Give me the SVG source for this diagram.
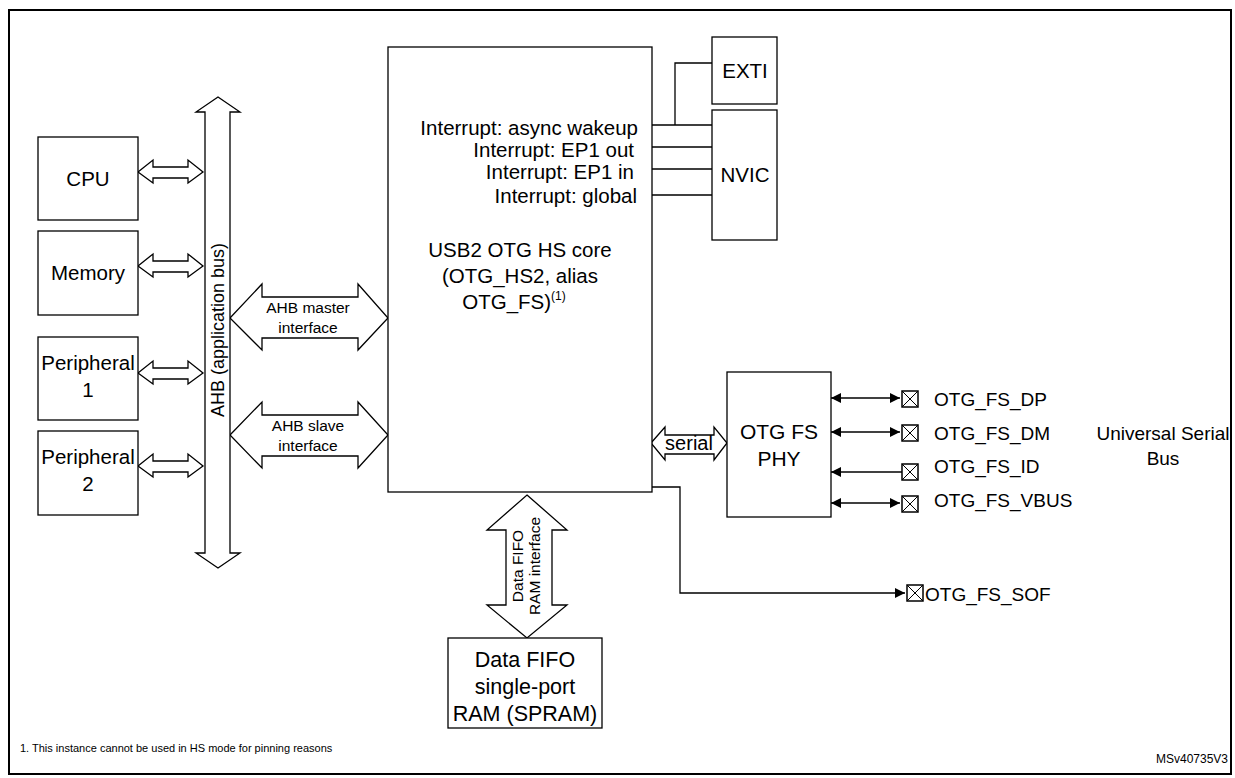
<svg xmlns="http://www.w3.org/2000/svg" width="1235" height="778" viewBox="0 0 1235 778">
<style>
text{font-family:"Liberation Sans",Arial,sans-serif;fill:#000}
.b{fill:#fff;stroke:#000;stroke-width:1.3}
.l{fill:none;stroke:#000;stroke-width:1.3}
.t17{font-size:19px}
.t20{font-size:20.5px}
.t18{font-size:18px}
.t13{font-size:15.5px}
.m{text-anchor:middle}
.e{text-anchor:end}
</style>
<defs>
<marker id="a" viewBox="0 0 10 10" refX="10" refY="5" markerWidth="10" markerHeight="10" markerUnits="userSpaceOnUse" orient="auto-start-reverse"><path d="M0,0L10,5L0,10z" fill="#000"/></marker>
<g id="pin"><rect x="0" y="0" width="16" height="16" fill="#fff" stroke="#000" stroke-width="1.5"/><path d="M0,0L16,16M16,0L0,16" stroke="#000" stroke-width="1"/></g>
</defs>
<rect x="9" y="10" width="1222" height="764" fill="#fff" stroke="#000" stroke-width="2"/>
<g id="connectors">
<path class="b" d="M138,172L153,160V167H188V160L203,172L188,183V178H153V183Z"/>
<path class="b" d="M138,266L153,254V261H188V254L203,266L188,277V272H153V277Z"/>
<path class="b" d="M138,373L153,361V368H188V361L203,373L188,384V379H153V384Z"/>
<path class="b" d="M138,466L153,454V461H188V454L203,466L188,477V472H153V477Z"/>
<path class="b" d="M230,318L262,284V297H358V284L388,318L358,350V338H262V350Z"/>
<path class="b" d="M230,435L262,402V415H358V402L388,435L358,468V456H262V468Z"/>
<path class="b" d="M651,443L665,427V435H714V427L727,443L714,460V454H665V460Z"/>
<path class="b" d="M527,495L567,530H552V605H567L527,638L487,605H506V530H487Z"/>
<path class="l" d="M652,125H712M652,147H712M652,169H712M652,195H712M675,125V63H712"/>
<path class="l" d="M652,487H680V593H905" marker-end="url(#a)"/>
<path class="l" d="M831,398H900" marker-start="url(#a)" marker-end="url(#a)"/>
<path class="l" d="M831,432H900" marker-start="url(#a)" marker-end="url(#a)"/>
<path class="l" d="M831,472H902" marker-start="url(#a)"/>
<path class="l" d="M831,503H900" marker-start="url(#a)" marker-end="url(#a)"/>
<use href="#pin" x="902" y="391"/>
<use href="#pin" x="902" y="425"/>
<use href="#pin" x="902" y="464"/>
<use href="#pin" x="902" y="496"/>
<use href="#pin" x="907" y="585"/>
</g>
<g id="ahb"><path class="b" d="M218,97L240,112H230V553H240L218,568L196,553H205V112H196Z"/>
<text class="t18 m" transform="translate(224,330) rotate(-90)">AHB (application bus)</text></g>
<g id="cpu"><rect class="b" x="38" y="137" width="100" height="83"/><text class="t20 m" x="88" y="186">CPU</text></g>
<g id="memory"><rect class="b" x="38" y="231" width="100" height="84"/><text class="t20 m" x="88" y="280">Memory</text></g>
<g id="p1"><rect class="b" x="38" y="337" width="100" height="83"/><text class="t20 m" x="88" y="370">Peripheral</text><text class="t20 m" x="88" y="397">1</text></g>
<g id="p2"><rect class="b" x="38" y="431" width="100" height="84"/><text class="t20 m" x="88" y="464">Peripheral</text><text class="t20 m" x="88" y="491">2</text></g>
<text class="t13 m" x="308" y="313">AHB master</text><text class="t13 m" x="308" y="333">interface</text>
<text class="t13 m" x="308" y="431">AHB slave</text><text class="t13 m" x="308" y="451">interface</text>
<text class="m" font-size="20" x="689" y="450">serial</text>
<text class="t13 m" transform="translate(527,566) rotate(-90)"><tspan x="0" y="-4">Data FIFO</tspan><tspan x="0" y="13">RAM interface</tspan></text>
<g id="core"><rect class="b" x="388" y="47" width="264" height="445"/>
<text class="t20 e" x="638" y="135">Interrupt: async wakeup</text>
<text class="t20 e" x="634" y="157">Interrupt: EP1 out</text>
<text class="t20 e" x="634" y="179">Interrupt: EP1 in</text>
<text class="t20 e" x="637" y="203">Interrupt: global</text>
<text class="t20 m" x="520" y="257">USB2 OTG HS core</text>
<text class="t20 m" x="520" y="283">(OTG_HS2, alias</text>
<text class="t20 m" x="514" y="309">OTG_FS)<tspan font-size="12" dy="-9">(1)</tspan></text></g>
<g id="exti"><rect class="b" x="712" y="37" width="65" height="67"/><text class="t20 m" x="745" y="78">EXTI</text></g>
<g id="nvic"><rect class="b" x="712" y="110" width="65" height="130"/><text class="t20 m" x="745" y="182">NVIC</text></g>
<g id="phy"><rect class="b" x="727" y="372" width="104" height="145"/><text class="m" font-size="21" x="779" y="439">OTG FS</text><text class="m" font-size="21" x="779" y="466">PHY</text></g>
<g id="spram"><rect class="b" x="448" y="638" width="154" height="90"/><text class="m" font-size="21.5" x="525" y="667">Data FIFO</text><text class="m" font-size="21.5" x="525" y="694">single-port</text><text class="m" font-size="21.5" x="525" y="721">RAM (SPRAM)</text></g>
<text class="t17" x="934" y="406">OTG_FS_DP</text>
<text class="t17" x="934" y="440">OTG_FS_DM</text>
<text class="t17" x="934" y="473">OTG_FS_ID</text>
<text class="t17" x="934" y="507">OTG_FS_VBUS</text>
<text class="t17" x="925" y="601">OTG_FS_SOF</text>
<text class="t17 m" x="1163" y="440">Universal Serial</text>
<text class="t17 m" x="1163" y="465">Bus</text>
<text x="20" y="752" font-size="11">1. This instance cannot be used in HS mode for pinning reasons</text>
<text x="1228" y="763" font-size="12" text-anchor="end">MSv40735V3</text>
</svg>
